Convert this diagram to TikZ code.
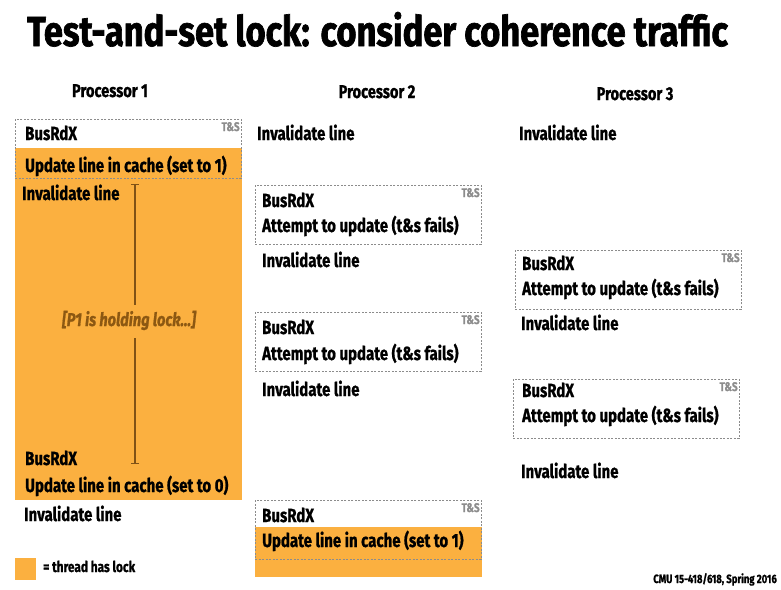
\documentclass[tikz,border=0pt]{standalone}
\usepackage{fontspec}
\setmainfont{Fira Sans}[FakeStretch=0.79, BoldFeatures={FakeBold=1}, BoldItalicFeatures={FakeBold=1}]
\newfontfamily\titlefont{Fira Sans}[FakeStretch=0.82, BoldFeatures={FakeBold=1.6}]
\usetikzlibrary{arrows.meta,positioning}
\definecolor{lockorange}{RGB}{251,176,64}
\definecolor{holdbrown}{RGB}{128,82,22}
\definecolor{holdtext}{RGB}{140,88,18}
\definecolor{tasgray}{RGB}{140,140,140}

\begin{document}
\begin{tikzpicture}[x=1pt, y=-1pt,
    txt/.style={anchor=base west, inner sep=0pt, font=\fontsize{19}{19}\selectfont\bfseries},
    head/.style={anchor=base, inner sep=0pt, font=\fontsize{18.5}{18.5}\selectfont\bfseries},
    tasbox/.style={draw=tasgray, line width=0.8pt, dash pattern=on 2pt off 1.5pt, anchor=north west, minimum width=226pt, minimum height=59pt, inner sep=0pt},
    tastag/.style={anchor=base east, inner sep=0pt, text=tasgray, font=\fontsize{12.5}{12.5}\selectfont\bfseries},
    lockfill/.style={fill=lockorange, draw=none}]
    \useasboundingbox (0,0) rectangle (781,589);

    \node[anchor=base west, inner sep=0pt, font=\titlefont\fontsize{42}{42}\selectfont\bfseries] (title) at (27,46) {Test-and-set lock: consider coherence traffic};

    \node[head] (p1head) at (110,97) {Processor 1};
    \node[head] (p2head) at (377,98) {Processor 2};
    \node[head] (p3head) at (635,100) {Processor 3};

    % time the lock is held
    \fill[lockfill] (15,148) rectangle (242,500);
    \fill[lockfill] (255,527) rectangle (482,577);

    % processor 1
    \node[tasbox] (p1tas) at (15,119) {};
    \node[tastag] at ([xshift=-2pt,yshift=-12pt]p1tas.north east) {T\&S};
    \node[txt] (p1bus) at (25,140) {BusRdX};
    \node[txt] (p1set) at (25,172) {Update line in cache (set to 1)};
    \node[txt] (p1inv) at (22,200) {Invalidate line};
    \node[anchor=base, inner sep=0pt, text=holdtext, font=\fontsize{18.5}{18.5}\selectfont\bfseries\itshape] (holdtxt) at (129,326) {[P1 is holding lock...]};
    \coordinate (holdtop) at (135,184);
    \coordinate (holdbot) at (135,464);
    \draw[holdbrown, line width=1.3pt, {Bar[width=8pt]}-] (holdtop) -- ([yshift=6pt]holdtop |- holdtxt.north);
    \draw[holdbrown, line width=1.3pt, -{Bar[width=8pt]}] ([yshift=-8pt]holdbot |- holdtxt.south) -- (holdbot);
    \node[txt] (p1bus2) at (25,465) {BusRdX};
    \node[txt] (p1clr) at (25,492) {Update line in cache (set to 0)};
    \node[txt] (p1inv2) at (24,521) {Invalidate line};

    % processor 2
    \node[txt] (p2inv) at (257,140) {Invalidate line};
    \node[tasbox] (p2tas) at (255,185) {};
    \node[tastag] at ([xshift=-2pt,yshift=-12pt]p2tas.north east) {T\&S};
    \node[txt] (p2bus) at (262,207) {BusRdX};
    \node[txt] (p2try) at (262,232) {Attempt to update (t\&s fails)};
    \node[txt] (p2inv2) at (262,267) {Invalidate line};
    \node[tasbox] (p2tas2) at (255,312) {};
    \node[tastag] at ([xshift=-2pt,yshift=-12pt]p2tas2.north east) {T\&S};
    \node[txt] (p2bus2) at (262,334) {BusRdX};
    \node[txt] (p2try2) at (262,360) {Attempt to update (t\&s fails)};
    \node[txt] (p2inv3) at (262,396) {Invalidate line};
    \node[tasbox] (p2tas3) at (255,500) {};
    \node[tastag] at ([xshift=-2pt,yshift=-12pt]p2tas3.north east) {T\&S};
    \node[txt] (p2bus3) at (262,522) {BusRdX};
    \node[txt] (p2set) at (262,547) {Update line in cache (set to 1)};

    % processor 3
    \node[txt] (p3inv) at (519,140) {Invalidate line};
    \node[tasbox] (p3tas) at (515,250) {};
    \node[tastag] at ([xshift=-2pt,yshift=-12pt]p3tas.north east) {T\&S};
    \node[txt] (p3bus) at (522,270) {BusRdX};
    \node[txt] (p3try) at (522,295) {Attempt to update (t\&s fails)};
    \node[txt] (p3inv2) at (521,330) {Invalidate line};
    \node[tasbox] (p3tas2) at (513,379) {};
    \node[tastag] at ([xshift=-2pt,yshift=-12pt]p3tas2.north east) {T\&S};
    \node[txt] (p3bus2) at (522,397) {BusRdX};
    \node[txt] (p3try2) at (522,422) {Attempt to update (t\&s fails)};
    \node[txt] (p3inv3) at (521,478) {Invalidate line};

    % legend and footer
    \fill[lockfill] (15,558) rectangle (36,580);
    \node[anchor=base west, inner sep=0pt, font=\fontsize{15}{15}\selectfont\bfseries] (legend) at (43,572) {= thread has lock};
    \node[anchor=base east, inner sep=0pt, font=\fontsize{12}{12}\selectfont\bfseries] (footer) at (777,583) {CMU 15-418/618, Spring 2016};
\end{tikzpicture}
\end{document}
